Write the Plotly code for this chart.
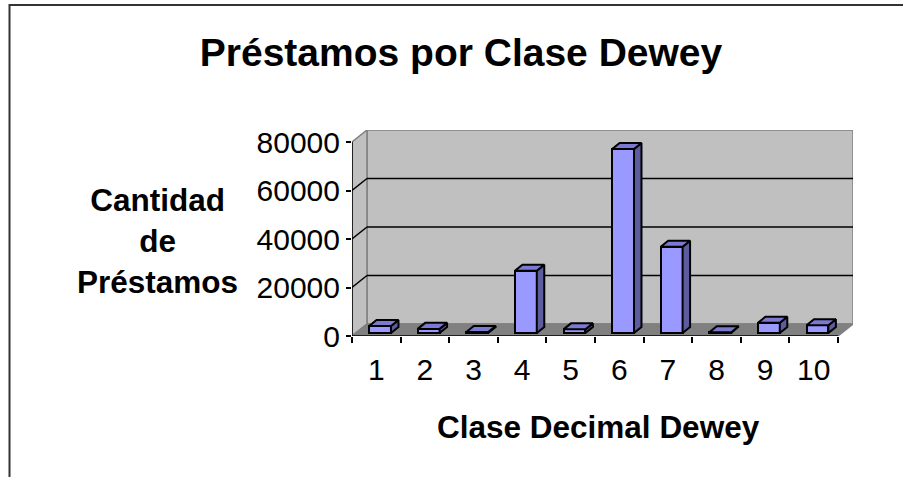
import plotly.graph_objects as go

# ---- data ----
categories = [1, 2, 3, 4, 5, 6, 7, 8, 9, 10]
prestamos = [2900, 1700, 400, 25700, 1500, 75900, 35600, 300, 4200, 3200]
y_ticks = [0, 20000, 40000, 60000, 80000]
y_tick_labels = ["0", "20000", "40000", "60000", "80000"]
title_text = "Préstamos por Clase Dewey"
y_title = "Cantidad<br>de<br>Préstamos"
x_title = "Clase Decimal Dewey"

# ---- pseudo-3D geometry (data units) ----
W, H = 903, 477
L, R, T, B = 352, 50, 130, 141
DX = 0.308      # depth offset along x (category units)
DY = 4950       # depth offset along y (value units)
YMAX = 80000
XMIN, XMAX = 0.5, 10.5
BAR_W = 0.45
F0, F1 = 0.25, 0.75   # bar depth placement (fraction of depth)

FONT = "Liberation Sans, Arial, sans-serif"

fig = go.Figure()

shapes = []
def path(pts):
    return "M " + " L ".join(f"{x},{y}" for x, y in pts) + " Z"

# back wall
shapes.append(dict(type="path", xref="x", yref="y", layer="below",
                   path=path([(XMIN + DX, DY), (XMAX + DX, DY), (XMAX + DX, YMAX + DY), (XMIN + DX, YMAX + DY)]),
                   fillcolor="#C0C0C0", line=dict(color="#808080", width=1.5)))
# left wall
shapes.append(dict(type="path", xref="x", yref="y", layer="below",
                   path=path([(XMIN, 0), (XMIN + DX, DY), (XMIN + DX, YMAX + DY), (XMIN, YMAX)]),
                   fillcolor="#C0C0C0", line=dict(color="#808080", width=1.5)))
# floor
shapes.append(dict(type="path", xref="x", yref="y", layer="below",
                   path=path([(XMIN, 0), (XMIN + DX, DY), (XMAX + DX, DY), (XMAX, 0)]),
                   fillcolor="#808080", line=dict(color="#808080", width=1.5)))
# gridlines
for v in y_ticks[1:-1]:
    shapes.append(dict(type="line", xref="x", yref="y", layer="below",
                       x0=XMIN + DX, y0=v + DY, x1=XMAX + DX, y1=v + DY,
                       line=dict(color="black", width=1.5)))
    shapes.append(dict(type="line", xref="x", yref="y", layer="below",
                       x0=XMIN, y0=v, x1=XMIN + DX, y1=v + DY,
                       line=dict(color="black", width=1.5)))
# axes lines
shapes.append(dict(type="line", xref="x", yref="y", layer="below",
                   x0=XMIN, y0=0, x1=XMIN, y1=YMAX, line=dict(color="black", width=1.5)))
shapes.append(dict(type="line", xref="x", yref="y", layer="below",
                   x0=XMIN, y0=0, x1=XMAX, y1=0, line=dict(color="black", width=1.5)))
# outer frame
def px(x):
    return (x - L) / (W - L - R)
def py(y):
    return (H - B - y) / (H - T - B)
shapes.append(dict(type="rect", xref="paper", yref="paper",
                   x0=px(9.5), y0=py(490), x1=px(920), y1=py(5),
                   line=dict(color="#333333", width=2), fillcolor="rgba(0,0,0,0)"))

# ---- bars (front faces) ----
bx = [c + F0 * DX for c in categories]
fig.add_trace(go.Bar(x=bx, y=prestamos, base=[F0 * DY] * len(prestamos), width=BAR_W,
                     marker=dict(color="#9999FF", line=dict(color="black", width=2)),
                     hoverinfo="skip", showlegend=False))

# side and top faces
d = F1 - F0
sx, sy, tx, ty = [], [], [], []
for c, v in zip(bx, prestamos):
    x0, x1 = c - BAR_W / 2, c + BAR_W / 2
    b0 = F0 * DY
    top = b0 + v
    sx += [x1, x1 + d * DX, x1 + d * DX, x1, x1, None]
    sy += [b0, b0 + d * DY, top + d * DY, top, b0, None]
    tx += [x0, x0 + d * DX, x1 + d * DX, x1, x0, None]
    ty += [top, top + d * DY, top + d * DY, top, top, None]
fig.add_trace(go.Scatter(x=sx, y=sy, mode="lines", fill="toself", fillcolor="#5C5C9E",
                         line=dict(color="black", width=2), hoverinfo="skip", showlegend=False))
fig.add_trace(go.Scatter(x=tx, y=ty, mode="lines", fill="toself", fillcolor="#7A7AD0",
                         line=dict(color="black", width=2), hoverinfo="skip", showlegend=False))

annotations = [
    dict(text=y_title, xref="paper", yref="paper", x=px(157), y=py(241),
         showarrow=False, xanchor="center", yanchor="middle", align="center",
         font=dict(family=FONT, size=31.5, color="black", weight="bold")),
    dict(text=x_title, xref="paper", yref="paper", x=px(598), y=py(427),
         showarrow=False, xanchor="center", yanchor="middle",
         font=dict(family=FONT, size=31.5, color="black", weight="bold")),
]

fig.update_layout(
    width=W, height=H,
    margin=dict(l=L, r=R, t=T, b=B, pad=0),
    paper_bgcolor="white", plot_bgcolor="white",
    title=dict(text=title_text, x=461 / W, y=1 - 52 / H, xref="container", yref="container",
               xanchor="center", yanchor="middle",
               font=dict(family=FONT, size=39, color="black", weight="bold")),
    xaxis=dict(range=[XMIN, XMAX + DX], tickvals=categories, ticktext=[str(c) for c in categories],
               ticks="", showgrid=False, zeroline=False, showline=False,
               tickfont=dict(family=FONT, size=30, color="black"), ticklabelstandoff=13,
               minor=dict(tickvals=[c - 0.5 for c in categories] + [categories[-1] + 0.5],
                          ticks="outside", ticklen=6, tickcolor="black", tickwidth=1.5, showgrid=False)),
    yaxis=dict(range=[0, YMAX + DY], tickvals=y_ticks, ticktext=y_tick_labels,
               ticks="outside", ticklen=5,
               tickcolor="black", tickwidth=1.5, showgrid=False, zeroline=False, showline=False,
               tickfont=dict(family=FONT, size=30, color="black")),
    shapes=shapes, annotations=annotations,
    bargap=0,
)

fig.write_html("out.html", config={"displayModeBar": False},
               post_script="document.body.style.margin='0px';document.body.style.padding='0px';")
